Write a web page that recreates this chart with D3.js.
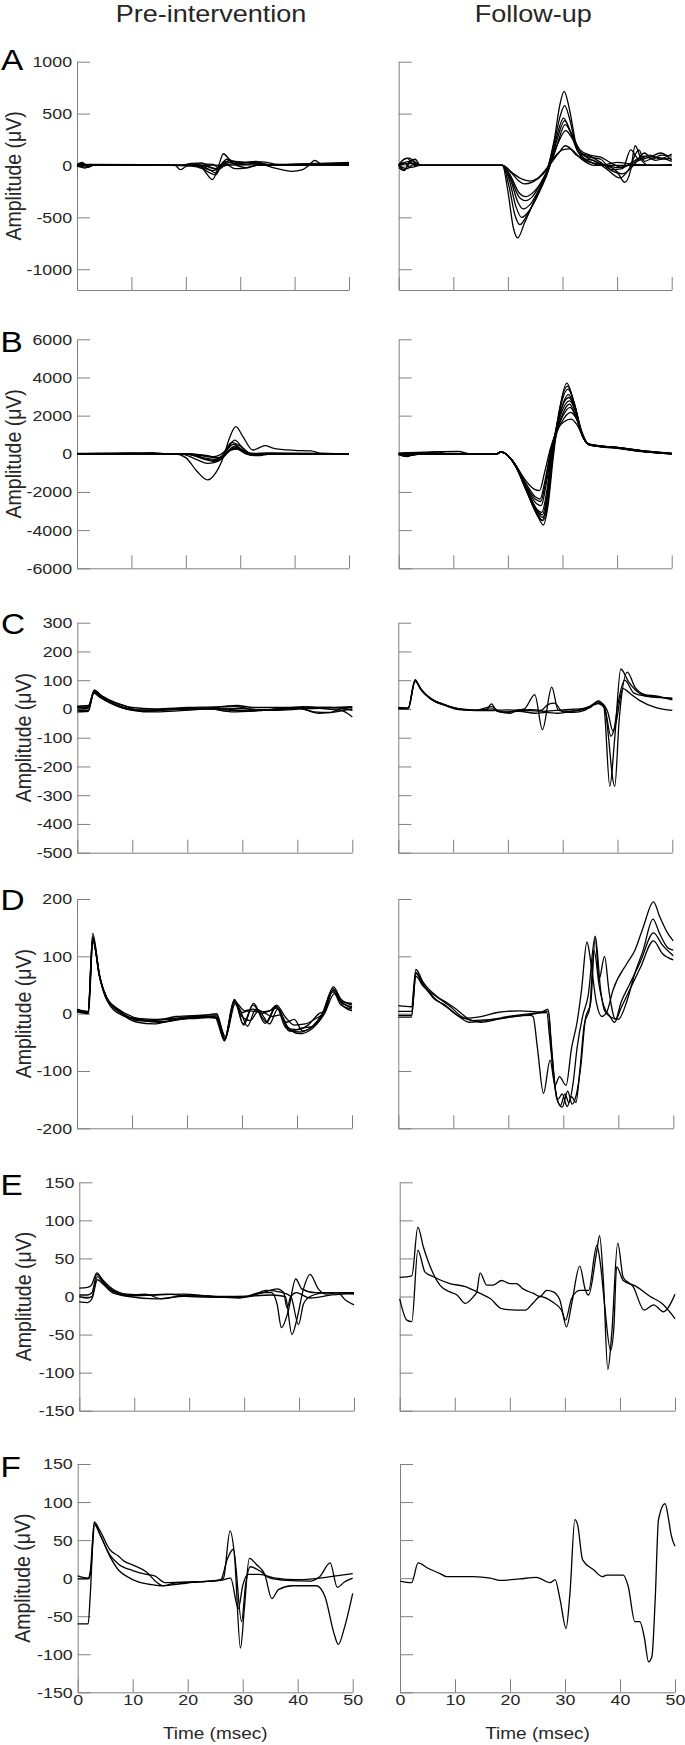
<!DOCTYPE html>
<html>
<head>
<meta charset="utf-8">
<script src="https://cdn.jsdelivr.net/npm/d3@7"></script>
<style>
  body { margin: 0; background: #fff; }
  text { font-family: "Liberation Sans", Arial, Helvetica, sans-serif; }
</style>
</head>
<body>
<script>
// ---- data (time in msec, amplitude in µV) ----
var columnTitles = ["Pre-intervention", "Follow-up"];
var rowLetters = ["A", "B", "C", "D", "E", "F"];
var xTicks = [0, 10, 20, 30, 40, 50];
var yDomains = [[-1200, 1000], [-6000, 6000], [-500, 300], [-200, 200], [-150, 150], [-150, 150]];
var yTicksA = [-1000, -500, 0, 500, 1000];
var yTicksB = [-6000, -4000, -2000, 0, 2000, 4000, 6000];
var yTicksC = [-500, -400, -300, -200, -100, 0, 100, 200, 300];
var yTicksD = [-200, -100, 0, 100, 200];
var yTicksE = [-150, -100, -50, 0, 50, 100, 150];
var yTicksF = [-150, -100, -50, 0, 50, 100, 150];

var aPre = [
  [[0,0],[17,0],[21,-5],[23,-30],[24.9,-136],[26,-10],[26.9,113],[28,60],[30,20],[32,30],[35,10],[38,0],[50,20]],
  [[0,0],[2,5],[20,0],[34,5],[36,-20],[39.5,-57],[41.5,-40],[42.6,0],[43.7,50],[45,10],[50,20]],
  [[0,10],[1,30],[2,-20],[3,0],[18,0],[19,-40],[20,-10],[22,15],[24,-60],[25.5,-90],[27,40],[28,30],[30,10],[33,20],[36,0],[50,10]],
  [[0,-5],[1.5,-25],[2.5,10],[4,0],[19,0],[21,20],[23,25],[24.5,-20],[26,-40],[27.5,20],[29,40],[31,30],[33,15],[36,5],[50,15]],
  [[0,0],[1,20],[2,0],[20,0],[22,5],[24,-30],[25.5,-70],[27.5,60],[29,10],[31,-20],[33,0],[38,5],[50,30]],
  [[0,5],[1.5,-15],[3,0],[21,0],[23,-20],[25,-50],[26.5,-10],[28,50],[30,30],[34,35],[37,10],[50,0]],
  [[0,0],[2,10],[22,0],[24,-10],[25.5,-30],[27,25],[29,-30],[31,-25],[33,0],[50,25]],
  [[0,-10],[1,10],[3,0],[20,0],[23,15],[25,10],[26,-20],[28,10],[30,20],[33,40],[35,5],[50,5]]
];
var aPost = [
  [[0,0],[1,60],[2,70],[3,20],[4,0],[19,0],[20,-250],[21,-600],[21.8,-698],[23,-560],[25,-320],[27,-80],[28.5,250],[29.5,580],[30.3,714],[31.2,560],[32.5,200],[34,50],[36,20],[38,0],[40,-60],[41.4,-163],[42.5,-40],[43.3,190],[44.5,50],[46,0],[50,10]],
  [[0,-20],[1,-50],[2,40],[3,60],[4,0],[19,0],[20.2,-200],[21.3,-480],[22.2,-570],[23.5,-480],[25.5,-260],[27.3,-30],[28.6,250],[29.6,480],[30.4,576],[31.3,450],[32.6,160],[34,70],[36,40],[38,-30],[40.5,-120],[42,-50],[44,150],[45,40],[47,80],[50,40]],
  [[0,10],[1.5,70],[3,0],[19,0],[20.3,-150],[21.5,-400],[22.5,-500],[24,-430],[26,-230],[27.6,-20],[28.8,250],[30.2,457],[31.4,330],[33,120],[35,80],[37,60],[39,-50],[41,-80],[43,0],[45,120],[46.5,60],[48,100],[50,90]],
  [[0,0],[1,-40],[2.5,50],[4,0],[19,0],[20.5,-140],[21.8,-350],[22.8,-419],[24,-380],[26,-200],[27.7,0],[29,250],[30.4,432],[31.5,320],[33,130],[35,90],[37,30],[39,-40],[41,-30],[42.5,150],[44,60],[46,100],[48,60],[50,70]],
  [[0,0],[2,40],[3,0],[19,0],[20.5,-120],[22,-300],[23.2,-339],[24.5,-300],[26.2,-150],[27.8,20],[29,200],[30.5,393],[31.7,300],[33.2,150],[35,100],[37,80],[39,20],[41,-20],[43,40],[45,90],[47,50],[50,110]],
  [[0,0],[1.5,-30],[3,20],[4,0],[19,0],[20.6,-110],[22,-260],[23.3,-300],[25,-240],[26.8,-100],[28,40],[29.3,230],[30.6,335],[31.8,260],[33.5,120],[36,40],[38,0],[40,-20],[42,0],[44,50],[46,80],[48,120],[50,50]],
  [[0,0],[2,20],[4,0],[19,0],[20.8,-80],[22,-150],[23,-178],[24.5,-160],[26.5,-80],[28,30],[29.3,120],[30.5,190],[31.8,150],[33.5,60],[36,0],[40,0],[50,0]],
  [[0,0],[1,30],[2,-20],[4,0],[19,0],[20.8,-70],[22.5,-130],[24,-150],[25.5,-120],[27.2,-20],[28.5,80],[30,150],[31.3,159],[32.5,100],[34.5,50],[37,0],[40,30],[43,10],[50,0]]
];

var bPre = [
  [[0,0],[18,0],[20,-200],[22,-900],[24,-1370],[25.5,-1000],[27,-100],[28,800],[29.2,1420],[30.5,900],[32.3,200],[34.6,425],[36,300],[40,180],[43,150],[45,20],[50,0]],
  [[0,0],[19,0],[22,-300],[24,-500],[26,-380],[27.5,200],[29,720],[30.5,300],[32,0],[35,50],[50,0]],
  [[0,0],[20,0],[23,-250],[25.5,-400],[27,0],[28.8,500],[30.5,150],[32,-50],[34,0],[50,0]],
  [[0,0],[20,0],[23,-200],[26,-300],[27.5,50],[29,400],[30.5,200],[32,0],[50,0]],
  [[0,20],[20,0],[24,-150],[26,-200],[28,200],[29.5,300],[31,100],[33,-80],[35,0],[50,0]],
  [[0,0],[21,0],[24,-100],[26.5,-250],[28,150],[29.3,250],[31,0],[33,-100],[36,0],[50,0]],
  [[0,0],[10,50],[13,0],[21,0],[24,-300],[26,-350],[27.5,0],[29,350],[31,50],[34,0],[50,0]],
  [[0,-30],[5,0],[14,60],[16,0],[22,-50],[25,-150],[27,100],[28.5,600],[30,400],[32,20],[50,0]]
];
var bPost = [
  [[0,-50],[1.5,-150],[3,0],[18,0],[18.7,100],[19.6,0],[21.5,-700],[23.5,-2000],[25.5,-3300],[26.5,-3730],[27.3,-2800],[28.3,-200],[29.3,2000],[30.8,3700],[32,2800],[33.5,1200],[34.7,520],[37,420],[40,330],[45,150],[50,30]],
  [[0,0],[2,-100],[4,0],[7,100],[9,0],[18,0],[18.7,90],[19.6,0],[21.5,-650],[23.5,-1900],[25.5,-3100],[26.4,-3330],[27.3,-2400],[28.2,0],[29.3,2000],[31,3390],[32.2,2600],[33.6,1000],[34.8,500],[37,400],[40,330],[45,140],[50,20]],
  [[0,30],[11,120],[13,0],[18,0],[18.7,110],[19.6,0],[21.4,-600],[23.4,-1800],[25.3,-2900],[26.2,-3070],[27.1,-2000],[28,0],[29.5,2100],[31.2,2950],[32.3,2300],[33.6,1000],[34.8,520],[37,410],[40,320],[45,130],[50,10]],
  [[0,-20],[1,-120],[2,0],[18,0],[18.7,100],[19.6,0],[21.3,-550],[23.3,-1700],[25.2,-2600],[26.1,-2720],[27,-1600],[28,100],[29.5,1900],[31.3,2770],[32.4,2200],[33.7,950],[34.8,500],[37,400],[40,320],[45,120],[50,0]],
  [[0,0],[18,0],[18.7,90],[19.6,0],[21.2,-500],[23.2,-1500],[25,-2250],[25.9,-2370],[26.8,-1400],[27.8,100],[29.6,1700],[31.4,2430],[32.5,1900],[33.8,900],[34.8,480],[37,380],[40,300],[45,110],[50,0]],
  [[0,40],[2,-80],[4,0],[18,0],[18.7,100],[19.6,0],[21.1,-450],[23,-1300],[24.8,-1850],[25.8,-1930],[26.7,-1000],[27.8,300],[29.7,1600],[31.5,2170],[32.6,1800],[33.8,850],[34.8,470],[37,370],[40,290],[45,100],[50,0]],
  [[0,0],[18,0],[18.7,100],[19.6,0],[21.4,-650],[23.4,-1950],[25.4,-3200],[26.3,-3500],[27.2,-2300],[28.2,0],[29.6,1500],[31.6,1820],[32.7,1500],[33.9,800],[34.9,470],[37,370],[40,300],[45,110],[50,0]],
  [[0,-60],[1.5,60],[3,0],[18,0],[18.7,110],[19.6,0],[21.5,-700],[23.5,-2000],[25.4,-3150],[26.4,-3500],[27.3,-2600],[28.2,-100],[29.3,2100],[30.9,3550],[32.1,2700],[33.5,1100],[34.7,510],[37,410],[40,330],[45,150],[50,20]],
  [[0,0],[18,0],[18.7,100],[19.6,0],[21.4,-600],[23.4,-1850],[25.3,-2950],[26.3,-3200],[27.2,-2100],[28.1,50],[29.4,1950],[31.1,3100],[32.3,2400],[33.6,1000],[34.8,500],[37,400],[40,320],[45,130],[50,10]],
  [[0,20],[18,0],[18.7,90],[19.6,0],[21.2,-520],[23.2,-1600],[25.1,-2400],[26,-2500],[26.9,-1500],[27.9,200],[29.6,1800],[31.3,2600],[32.4,2000],[33.7,900],[34.8,490],[37,390],[40,310],[45,120],[50,0]]
];

var cPre = [
  [[0,5],[2,8],[3.1,66],[4,50],[5,35],[7,15],[9,0],[12,-8],[15,-5],[20,0],[25,5],[28,10],[30,5],[33,-5],[36,0],[40,5],[43,-10],[46,-12],[48,0],[50,-5]],
  [[0,-5],[2,-5],[3,62],[4,45],[6,25],[8,5],[10,-5],[13,-8],[18,0],[22,0],[28,-5],[31,-8],[35,-3],[39,0],[42,5],[45,0],[48,-5],[50,-28]],
  [[0,10],[2,12],[3.1,60],[4,50],[6,30],[8,15],[10,5],[14,0],[20,5],[26,8],[29,12],[32,5],[38,5],[41,8],[45,5],[50,5]],
  [[0,0],[2,3],[3,58],[4.2,40],[6,20],[9,0],[12,-5],[17,0],[24,3],[30,-5],[35,-2],[40,3],[44,-15],[47,-10],[50,0]],
  [[0,-10],[2,-8],[3,55],[4,42],[6,22],[8,8],[11,-3],[16,-2],[24,0],[28,-10],[33,-6],[37,0],[42,5],[46,5],[50,-3]],
  [[0,8],[2,5],[3.2,64],[4.5,45],[7,20],[9.5,5],[12,-10],[15,-10],[21,-3],[27,3],[31,0],[36,-5],[41,0],[45,3],[50,8]]
];
var cPost = [
  [[0,3],[1.8,3],[3.05,102],[4,72],[5.8,38],[8,18],[10.5,3],[13,-2],[16,-5],[17,18],[18,-8],[20,-12],[21.5,-5],[23,0],[24.9,50],[26.3,-72],[28,76],[29.2,-5],[31,-8],[33,-5],[35,5],[36.5,28],[37.5,10],[38.6,-269],[39.5,-100],[40.6,139],[42,95],[44,55],[47,40],[50,38]],
  [[0,0],[1.8,0],[3.1,98],[4.2,68],[6,35],[8.5,15],[11,0],[14,-5],[17,8],[18.5,-10],[20.5,-15],[22,-3],[24,-2],[26,-5],[27.3,15],[28.5,20],[30,-10],[32,-12],[34,-5],[36,20],[37.6,5],[39.5,-269],[40.3,-40],[41.8,128],[43.2,75],[45,50],[47,45],[50,32]],
  [[0,5],[1.8,3],[3.05,96],[4.3,64],[6.2,32],[9,10],[12,-3],[16,-6],[20,-3],[24,-6],[27,-8],[30,-3],[33,0],[35,5],[36.3,25],[37.7,0],[38.8,-95],[39.7,-50],[41,71],[42.5,50],[44,30],[47,5],[50,-5]],
  [[0,2],[1.8,2],[3.1,100],[4,70],[6,33],[8.5,12],[11,-2],[14,-4],[17,0],[19,-10],[22,-8],[25,-15],[27,-12],[29,-15],[31,-10],[33,-3],[35,10],[37,20],[38.2,-10],[39.2,-78],[40.1,20],[41.3,100],[43,55],[45,45],[48,40],[50,36]]
];

var dPre = [
  [[0,8],[2.06,3],[2.85,140],[4.1,67],[5.3,27],[7.7,5],[10.8,-11],[14,-12],[18,-5],[22,-3],[25.4,-2],[26.9,-46],[28.7,24],[30.3,-20],[32.1,18],[34.2,-17],[36.2,13],[38,-25],[40,-28],[42,-20],[44,0],[45,5],[46.6,47],[48,25],[50,15]],
  [[0,5],[2,2],[2.9,128],[4.2,62],[5.5,25],[8,0],[11,-15],[14,-18],[18,-10],[22,-8],[25.3,-6],[26.8,-48],[28.5,20],[30,-5],[31.5,-12],[33,5],[35,-18],[36.5,8],[38.5,-30],[40.5,-32],[42.5,-25],[44.5,-2],[46.5,40],[48,15],[50,8]],
  [[0,3],[2.1,0],[2.9,132],[4.1,65],[5.4,28],[7.8,3],[10.5,-8],[14,-10],[18,-8],[22,-5],[25.4,0],[26.9,-43],[28.6,22],[30.5,5],[32,8],[33.5,0],[35,5],[36.5,10],[38,-15],[39.5,-10],[41,-30],[43,-20],[44.8,3],[46.5,38],[48,20],[50,12]],
  [[0,6],[2,2],[2.9,125],[4.2,60],[5.5,22],[8,-2],[11,-10],[15,-15],[20,-8],[25.3,-4],[26.9,-44],[28.7,22],[29.6,8],[31,-22],[32.5,8],[34,2],[35.5,-5],[37,-2],[38.8,-30],[41,-25],[43,-22],[45,0],[46.8,35],[48.5,12],[50,5]],
  [[0,4],[2,1],[2.85,135],[4,68],[5.3,30],[7.5,8],[10,-5],[13,-12],[17,-10],[21,-5],[25.5,-8],[27,-40],[28.8,18],[30,2],[31.3,5],[33,3],[35,5],[36.3,15],[37.8,-5],[39.5,-20],[41.5,-18],[43.5,-8],[45,2],[46.6,42],[48.2,20],[50,10]],
  [[0,7],[2,4],[2.85,130],[4.2,62],[5.6,24],[8,2],[11,-12],[15,-14],[20,-8],[25,-5],[26.8,-45],[28.6,25],[30.2,-18],[32,15],[34.5,-15],[36.2,12],[38.2,-22],[40.5,-35],[42.5,-28],[44.5,-5],[46.5,44],[48,22],[50,18]]
];
var dPost = [
  [[0,14],[2.4,12],[3.2,77],[4.5,55],[6.9,31],[9,18],[10.5,8],[12.9,-10],[15,-15],[18,-10],[21,-5],[24,-3],[24.5,-5],[25.3,-60],[26.4,-139],[27.6,-81],[28.5,-125],[29.3,-110],[30.5,-125],[31.5,-60],[32.5,-15],[33.3,40],[34.3,125],[35,90],[36,20],[37,-5],[38,5],[39,40],[41.6,88],[43,110],[44.5,150],[46.4,195],[47.5,170],[49,140],[50,127]],
  [[0,-6],[2.4,-6],[3.2,70],[4.5,50],[6.5,28],[9,10],[11,-5],[13,-15],[16,-12],[20,-5],[24,0],[27,2],[27.5,-40],[28.5,-130],[29.5,-160],[30.3,-140],[31,-155],[31.8,-120],[32.5,-60],[33.5,-5],[34.5,30],[35.8,135],[36.8,40],[37.5,5],[38.5,-5],[40,-10],[41.5,20],[43,70],[44.5,110],[46.3,165],[47.5,140],[49,115],[50,111]],
  [[0,-3],[2.4,-3],[3.2,65],[4.5,48],[6.9,30],[9.5,12],[11.5,-5],[13.5,-12],[17,-10],[21,-5],[25,0],[27.3,5],[27.8,-50],[28.8,-148],[29.8,-163],[30.8,-135],[31.6,-158],[32.4,-140],[33.2,-90],[34,-10],[35,20],[35.8,133],[36.5,60],[37.5,100],[38.3,40],[39.5,-10],[40.5,20],[42,50],[44,90],[46.4,141],[48,120],[50,101]],
  [[0,4],[2.4,4],[3.2,72],[4.5,52],[6.5,26],[8.5,15],[10,3],[12,-8],[15,-5],[18,2],[22,5],[26,3],[27.2,8],[28,-80],[29,-150],[29.8,-140],[30.7,-162],[31.5,-145],[32.3,-155],[33,-100],[33.8,-20],[34.8,10],[35.6,110],[36.5,50],[37.3,15],[38.5,-5],[39.3,-15],[40.5,10],[42,40],[44,80],[46.4,127],[48,105],[50,94]]
];

var ePre = [
  [[0,11],[1.5,12],[2.2,15],[3.2,31],[4.5,18],[6,8],[8.6,2],[12,3],[15,-3],[20,2],[25,0],[30,0],[33,5],[35,5],[36,-10],[36.8,-41],[38,-20],[39.4,23],[40.5,10],[43,5],[46,5],[50,3]],
  [[0,2],[1.5,2],[2.3,5],[3.2,29],[4.5,20],[6,10],[8.6,3],[12,2],[16,3],[20,0],[25,-1],[30,0],[35,2],[37.5,0],[38.7,-50],[39.6,-30],[40.8,10],[42,29],[43.5,10],[45,3],[47,5],[48.5,-5],[50,-11]],
  [[0,-7],[1.5,-8],[2.3,-3],[3.3,22],[4.5,15],[6,5],[9,0],[14,-3],[18,0],[22,1],[27,-1],[31,0],[34,8],[37,5],[38.5,0],[39.9,-37],[40.8,-10],[42,0],[45,5],[50,5]],
  [[0,0],[1.5,-2],[2.3,0],[3.3,26],[4.5,16],[6.5,5],[9,1],[14,2],[19,3],[24,0],[29,-2],[33,4],[36,10],[37.2,5],[37.8,-15],[38.5,0],[39.5,5],[42,-2],[46,2],[50,4]]
];
var ePost = [
  [[0,25],[2.2,27],[3.3,91],[4.3,65],[6.1,30],[7.3,15],[9.1,6],[10.4,2],[11.9,-9],[13.4,0],[14,6],[14.6,31],[15.8,15],[17,15],[18.5,21],[20,17],[21.2,17],[22.4,10],[24.3,4],[25.5,0],[26.7,8],[27.9,6],[29.1,-5],[30.3,-40],[31.2,-11],[32.7,40],[33.7,9],[34.3,2],[35.8,60],[36.3,80],[37,20],[37.8,-96],[38.5,-50],[39.6,70],[40.6,25],[42.4,13],[44.4,-18],[46.1,-11],[47.9,-20],[50,3]],
  [[0,-3],[1.3,-31],[2.2,-33],[3.3,61],[4.6,32],[6.1,26],[9.1,17],[11.9,13],[14.6,4],[16.5,-3],[18.5,-16],[21.2,-18],[22.8,-18],[24.3,-8],[25.5,0],[27.9,-8],[29.4,-18],[30.1,-31],[31.2,-3],[32.7,8],[34.3,8],[35.8,67],[36.5,40],[37.2,-10],[38.3,-71],[38.9,-40],[39.4,39],[40.6,21],[43,13],[45.5,0],[47.6,-9],[50,-29]]
];

var fPre = [
  [[0,-60],[1.9,-60],[2.3,-20],[3,74],[4,63],[5.9,37],[7.4,29],[8.5,22],[10.1,17],[12.5,8],[14.3,-5],[15.6,-10],[18,-6],[22,-5],[25.5,-3],[26.5,0],[27.7,62],[28.5,30],[29.6,-92],[30.3,-40],[31.2,26],[32.5,18],[34,5],[35.3,-27],[36.5,-15],[39,-10],[43.4,-10],[45,-25],[46.5,-70],[47.4,-87],[48.5,-65],[50,-20]],
  [[0,3],[1.9,0],[2.3,10],[3,72],[4,58],[5.9,30],[7.5,18],[10,10],[12.5,5],[14,3],[16,-6],[20,-5],[24,-4],[26,-2],[27.2,25],[28.3,38],[29.8,-57],[30.5,-10],[31.4,15],[33,10],[35,0],[38,-3],[42,-4],[44,2],[45.9,20],[47.2,-12],[48.5,-5],[50,0]],
  [[0,-1],[1.9,-1],[2.3,5],[3.1,70],[4.2,55],[5.9,28],[7.5,10],[9,2],[11,-5],[13,-8],[15,-10],[18,-8],[22,-5],[26,-3],[27.8,0],[29.2,-40],[30,-10],[31,5],[33,5],[36,0],[40,-2],[44,0],[47,3],[50,6]]
];
var fPost = [
  [[0,-4],[2.1,-6],[3.3,20],[5.1,13],[7.3,6],[8.5,2],[13.3,2],[16.4,0],[18.2,-3],[21.8,-1],[24.8,1],[27.3,-6],[28.2,-2],[29.1,-28],[30.2,-66],[30.9,-20],[31.8,77],[32.3,70],[33.2,24],[35.2,11],[36.8,2],[37.6,4],[40.6,4],[41.5,-11],[42.7,-57],[43.6,-57],[44.4,-77],[45.2,-110],[45.8,-103],[46.4,-28],[47,77],[48.2,98],[48.8,79],[49.3,57],[50,42]]
];

var yTicksByRow = [yTicksA, yTicksB, yTicksC, yTicksD, yTicksE, yTicksF];
var tracesByRow = [[aPre, aPost], [bPre, bPost], [cPre, cPost], [dPre, dPost], [ePre, ePost], [fPre, fPost]];

// ---- layout ----
var W = 685, H = 1745;
var SX = 1.15;  // horizontal stretch of the original lettering
var tops = [61.7, 339.3, 622.7, 899, 1182.3, 1464];
var heights = [228.3, 229, 230, 229.3, 228.4, 228.3];
var colX = [[77, 398.7], [77, 398.7], [77.3, 398.3], [77, 398.3], [79.3, 399.7], [77.7, 400]];
var colW = [[272, 273], [272, 273], [275, 274], [275, 275], [274.7, 275.3], [275, 275]];
var labelX = [21, 21, 31, 31, 31, 30];
var letterX = [1, 0.5, 1, 0.5, 0.5, 0.5];
var letterDy = [8.5, 12.5, 11, 11, 12.7, 12.7];
var axisColor = "#808080", textColor = "#262626";

var svg = d3.select("body").append("svg")
  .attr("width", W).attr("height", H);

function styleAxis(g, showLabels) {
  g.attr("font-size", null).attr("font-family", null);
  g.select(".domain").attr("stroke", axisColor).attr("stroke-width", 1);
  g.selectAll(".tick line").attr("stroke", axisColor).attr("stroke-width", 1);
  if (!showLabels) { g.selectAll(".tick text").remove(); return; }
  g.selectAll(".tick text")
    .attr("fill", textColor)
    .attr("font-size", 15.5)
    .attr("transform", "scale(" + SX + ",1)");
}

// plain hyphen for negatives, as in the original
var fmt = function(d) { return String(d); };

tracesByRow.forEach(function(pair, r) {
  var top = tops[r], h = heights[r];
  var y0 = top + h;

  pair.forEach(function(traces, c) {
    var x = d3.scaleLinear().domain([0, 50]).range([colX[r][c], colX[r][c] + colW[r][c]]);
    var y = d3.scaleLinear().domain(yDomains[r]).range([y0, top]);

    // y axis, ticks pointing inwards
    svg.append("g")
      .attr("transform", "translate(" + x(0) + ",0)")
      .call(d3.axisLeft(y).tickValues(yTicksByRow[r]).tickFormat(fmt)
        .tickSizeInner(-13).tickSizeOuter(0).tickPadding(4.3))
      .call(styleAxis, c === 0);

    // x axis, ticks pointing up
    svg.append("g")
      .attr("transform", "translate(0," + y0 + ")")
      .call(d3.axisBottom(x).tickValues(xTicks).tickFormat(fmt)
        .tickSizeInner(-13).tickSizeOuter(0).tickPadding(1.5))
      .call(styleAxis, r === 5);

    var line = d3.line()
      .x(function(d) { return x(d[0]); })
      .y(function(d) { return y(d[1]); })
      .curve(d3.curveMonotoneX);

    svg.append("g").selectAll("path")
      .data(traces)
      .enter().append("path")
        .attr("d", line)
        .attr("fill", "none")
        .attr("stroke", "#000")
        .attr("stroke-width", 1.3)
        .attr("stroke-linejoin", "round");

    if (c === 0) {
      svg.append("text")
        .attr("transform", "translate(" + labelX[r] + "," + (top + h / 2) + ") rotate(-90) scale(1,1.1)")
        .attr("text-anchor", "middle")
        .attr("font-size", 19.5)
        .attr("fill", textColor)
        .text("Amplitude (\u03bcV)");
    }

    if (r === 5) {
      svg.append("text")
        .attr("transform", "translate(" + (x(25)) + ",1739) scale(" + SX + ",1)")
        .attr("text-anchor", "middle")
        .attr("font-size", 16.5)
        .attr("fill", textColor)
        .text("Time (msec)");
    }

    if (r === 0) {
      svg.append("text")
        .attr("transform", "translate(" + (x(25) - 2) + ",21.5) scale(" + SX + ",1)")
        .attr("text-anchor", "middle")
        .attr("font-size", 23.5)
        .attr("fill", textColor)
        .text(columnTitles[c]);
    }
  });

  // panel letter
  svg.append("text")
    .attr("transform", "translate(" + letterX[r] + "," + (top + letterDy[r]) + ") scale(" + SX + ",1)")
    .attr("font-size", 29)
    .attr("fill", "#000")
    .text(rowLetters[r]);
});
</script>
</body>
</html>
